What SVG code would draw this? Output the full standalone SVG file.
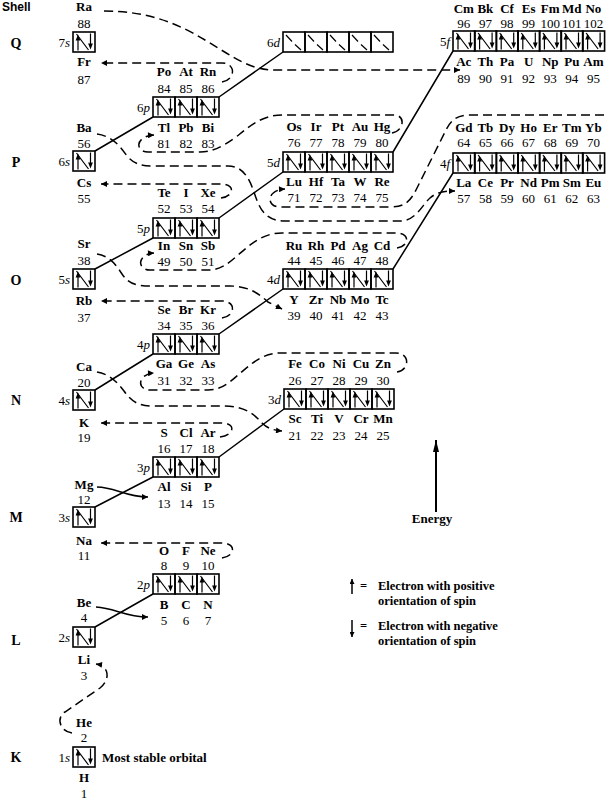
<svg xmlns="http://www.w3.org/2000/svg" xmlns:xlink="http://www.w3.org/1999/xlink" width="606" height="800" viewBox="0 0 606 800">
<style>
.bx{fill:none;stroke:#000;stroke-width:1.6}
.in{fill:none;stroke:#000;stroke-width:1.2}
.sym{font-family:"Liberation Serif",serif;font-weight:bold;font-size:13px;text-anchor:middle}
.num{font-family:"Liberation Serif",serif;font-size:13px;text-anchor:middle}
.orb{font-family:"Liberation Serif",serif;font-size:13px;text-anchor:end}
.it{font-style:italic}
.sh{font-family:"Liberation Serif",serif;font-weight:bold;font-size:14px;text-anchor:middle}
.lg{font-family:"Liberation Serif",serif;font-weight:bold;font-size:13px}
.lg2{font-family:"Liberation Serif",serif;font-weight:bold;font-size:12.5px}
.dash{fill:none;stroke:#000;stroke-width:1.5;stroke-dasharray:9 5}
.sol{fill:none;stroke:#000;stroke-width:1.5}
</style>
<defs>
<marker id="ah" viewBox="0 0 10 10" refX="10" refY="5" markerWidth="9" markerHeight="6" markerUnits="userSpaceOnUse" orient="auto"><path d="M0,0 L10,5 L0,10 Z" fill="#000"/></marker>
<marker id="ahE" viewBox="0 0 12 6" refX="12" refY="3" markerWidth="12" markerHeight="6" markerUnits="userSpaceOnUse" orient="auto"><path d="M0,0 L12,3 L0,6 Z" fill="#000"/></marker>
<marker id="ahS" viewBox="0 0 10 10" refX="10" refY="5" markerWidth="6" markerHeight="5" markerUnits="userSpaceOnUse" orient="auto"><path d="M0,0 L10,5 L0,10 Z" fill="#000"/></marker>
<g id="o"><rect class="bx" width="22" height="20"/><path class="in" d="M3.5,2 L15.5,18 M5,18.5 V7.5 M17.5,1.5 V12.5"/><path d="M2.6,8.6 L7.4,8.6 L5,2.6Z M15.1,11.4 L19.9,11.4 L17.5,17.4Z"/></g>
<g id="oe"><rect class="bx" width="22" height="20"/><path class="in" d="M3,3 L9,9.5 M12,12.5 L18,18"/></g>
</defs>
<rect width="606" height="800" fill="#fff"/>

<g id="connectors">
<path class="sol" d="M95,151 L153,117 M219,97 L283,52 M393,152 L453,51 M95,269 L153,238 M219,218 L283,172 M393,269 L453,173 M95,390 L153,354 M219,334 L283,289 M95,507 L153,477 M219,457 L284,409 M95,627 L153,594"/>
<path class="dash" marker-end="url(#ah)" d="M104,11 C150,11 180,25 205,40 C235,58 250,70 275,70 L460,70"/>
<path class="dash" marker-end="url(#ah)" d="M222,82 C236,80 236,63 222,63 L101,63"/>
<path class="dash" marker-end="url(#ah)" d="M392,133 C404,131 406,115 394,115 L282,115 C262,115 250,126 236,137 C222,147 212,152 200,152 L148,152 C135,152 135,136 154,135"/>
<path class="dash" marker-end="url(#ah)" d="M221,198 C235,196 235,184 221,184 L101,184"/>
<path class="dash" marker-end="url(#ah)" d="M97,134 C112,136 120,146 127,156 C134,164 141,166 155,166 L228,166 C244,166 250,180 255,195 C260,210 266,221 285,221 L400,221 C416,221 422,205 430,198 C437,192 444,191 455,191"/>
<path class="dash" marker-end="url(#ah)" d="M604,115 L470,115 C457,115 451,120 446,130 L416,190 C410,202 404,207 390,207 L280,207 C266,207 266,190 285,189"/>
<path class="dash" marker-end="url(#ah)" d="M397,248 C410,246 410,233 396,233 L282,233 C262,233 250,245 238,255 C228,264 220,270 208,270 L150,270 C137,270 137,254 154,253"/>
<path class="dash" marker-end="url(#ah)" d="M222,318 C236,316 236,301 222,301 L101,301"/>
<path class="dash" marker-end="url(#ah)" d="M97,254 C110,256 116,265 122,274 C128,283 135,286 150,286 L230,286 C250,286 260,295 268,302 L282,309"/>
<path class="dash" marker-end="url(#ah)" d="M397,372 C410,370 410,353 396,353 L280,353 C262,353 250,365 238,375 C228,384 220,390 208,390 L150,390 C137,390 137,374 154,373"/>
<path class="dash" marker-end="url(#ah)" d="M220,437 C235,435 236,423 222,423 L101,423"/>
<path class="dash" marker-end="url(#ah)" d="M97,372 C110,374 118,383 124,391 C131,401 138,406 152,406 L225,406 C245,406 255,415 262,423 C267,428 272,430 282,431"/>
<path class="dash" marker-end="url(#ah)" d="M222,558 C236,556 236,543 222,543 L101,543"/>
<path class="dash" marker-end="url(#ah)" d="M72,733 C58,731 57,716 65,712 L100,688 C110,680 110,666 96,664"/>
<path class="sol" marker-end="url(#ah)" d="M96,607 C115,608 125,617 148,617"/>
<path class="sol" marker-end="url(#ah)" d="M97,487 C115,487 125,497 148,497"/>
</g>

<g id="shells">
<text x="2" y="11" font-family="Liberation Sans, sans-serif" font-weight="bold" font-size="12">Shell</text>
<text class="sh" x="16" y="48">Q</text>
<text class="sh" x="16" y="167">P</text>
<text class="sh" x="16" y="285">O</text>
<text class="sh" x="16" y="405">N</text>
<text class="sh" x="16" y="522">M</text>
<text class="sh" x="16" y="645">L</text>
<text class="sh" x="16" y="762">K</text>
</g>

<g id="n7s">
<text class="orb" x="70" y="47">7<tspan class="it">s</tspan></text>
<use href="#o" x="73" y="32"/>
<text class="sym" x="84" y="11">Ra</text><text class="num" x="84" y="28">88</text>
<text class="sym" x="84" y="66">Fr</text><text class="num" x="84" y="84">87</text>
</g>
<g id="n6s">
<text class="orb" x="70" y="166">6<tspan class="it">s</tspan></text>
<use href="#o" x="73" y="151"/>
<text class="sym" x="84" y="132">Ba</text><text class="num" x="84" y="148">56</text>
<text class="sym" x="84" y="187">Cs</text><text class="num" x="84" y="203">55</text>
</g>
<g id="n5s">
<text class="orb" x="70" y="284">5<tspan class="it">s</tspan></text>
<use href="#o" x="73" y="269"/>
<text class="sym" x="84" y="248">Sr</text><text class="num" x="84" y="265">38</text>
<text class="sym" x="84" y="305">Rb</text><text class="num" x="84" y="322">37</text>
</g>
<g id="n4s">
<text class="orb" x="70" y="405">4<tspan class="it">s</tspan></text>
<use href="#o" x="73" y="390"/>
<text class="sym" x="84" y="371">Ca</text><text class="num" x="84" y="387">20</text>
<text class="sym" x="84" y="427">K</text><text class="num" x="84" y="442">19</text>
</g>
<g id="n3s">
<text class="orb" x="70" y="522">3<tspan class="it">s</tspan></text>
<use href="#o" x="73" y="507"/>
<text class="sym" x="84" y="489">Mg</text><text class="num" x="84" y="504">12</text>
<text class="sym" x="84" y="545">Na</text><text class="num" x="84" y="560">11</text>
</g>
<g id="n2s">
<text class="orb" x="70" y="642">2<tspan class="it">s</tspan></text>
<use href="#o" x="73" y="627"/>
<text class="sym" x="84" y="607">Be</text><text class="num" x="84" y="622">4</text>
<text class="sym" x="84" y="664">Li</text><text class="num" x="84" y="680">3</text>
</g>
<g id="n1s">
<text class="orb" x="70" y="762">1<tspan class="it">s</tspan></text>
<use href="#o" x="73" y="747"/>
<text class="sym" x="84" y="727">He</text><text class="num" x="84" y="742">2</text>
<text class="sym" x="84" y="782">H</text><text class="num" x="84" y="798">1</text>
<text class="lg" x="102" y="762">Most stable orbital</text>
</g>

<g id="n6p">
<text class="orb" x="150" y="112">6<tspan class="it">p</tspan></text>
<use href="#o" x="153" y="97"/><use href="#o" x="175" y="97"/><use href="#o" x="197" y="97"/>
<text class="sym" y="76"><tspan x="164">Po</tspan><tspan x="186">At</tspan><tspan x="208">Rn</tspan></text>
<text class="num" y="93"><tspan x="164">84</tspan><tspan x="186">85</tspan><tspan x="208">86</tspan></text>
<text class="sym" y="132"><tspan x="164">Tl</tspan><tspan x="186">Pb</tspan><tspan x="208">Bi</tspan></text>
<text class="num" y="148"><tspan x="164">81</tspan><tspan x="186">82</tspan><tspan x="208">83</tspan></text>
</g>
<g id="n5p">
<text class="orb" x="150" y="233">5<tspan class="it">p</tspan></text>
<use href="#o" x="153" y="218"/><use href="#o" x="175" y="218"/><use href="#o" x="197" y="218"/>
<text class="sym" y="197"><tspan x="164">Te</tspan><tspan x="186">I</tspan><tspan x="208">Xe</tspan></text>
<text class="num" y="213"><tspan x="164">52</tspan><tspan x="186">53</tspan><tspan x="208">54</tspan></text>
<text class="sym" y="250"><tspan x="164">In</tspan><tspan x="186">Sn</tspan><tspan x="208">Sb</tspan></text>
<text class="num" y="266"><tspan x="164">49</tspan><tspan x="186">50</tspan><tspan x="208">51</tspan></text>
</g>
<g id="n4p">
<text class="orb" x="150" y="349">4<tspan class="it">p</tspan></text>
<use href="#o" x="153" y="334"/><use href="#o" x="175" y="334"/><use href="#o" x="197" y="334"/>
<text class="sym" y="314"><tspan x="164">Se</tspan><tspan x="186">Br</tspan><tspan x="208">Kr</tspan></text>
<text class="num" y="330"><tspan x="164">34</tspan><tspan x="186">35</tspan><tspan x="208">36</tspan></text>
<text class="sym" y="368"><tspan x="164">Ga</tspan><tspan x="186">Ge</tspan><tspan x="208">As</tspan></text>
<text class="num" y="385"><tspan x="164">31</tspan><tspan x="186">32</tspan><tspan x="208">33</tspan></text>
</g>
<g id="n3p">
<text class="orb" x="150" y="472">3<tspan class="it">p</tspan></text>
<use href="#o" x="153" y="457"/><use href="#o" x="175" y="457"/><use href="#o" x="197" y="457"/>
<text class="sym" y="437"><tspan x="164">S</tspan><tspan x="186">Cl</tspan><tspan x="208">Ar</tspan></text>
<text class="num" y="453"><tspan x="164">16</tspan><tspan x="186">17</tspan><tspan x="208">18</tspan></text>
<text class="sym" y="491"><tspan x="164">Al</tspan><tspan x="186">Si</tspan><tspan x="208">P</tspan></text>
<text class="num" y="508"><tspan x="164">13</tspan><tspan x="186">14</tspan><tspan x="208">15</tspan></text>
</g>
<g id="n2p">
<text class="orb" x="150" y="589">2<tspan class="it">p</tspan></text>
<use href="#o" x="153" y="574"/><use href="#o" x="175" y="574"/><use href="#o" x="197" y="574"/>
<text class="sym" y="555"><tspan x="164">O</tspan><tspan x="186">F</tspan><tspan x="208">Ne</tspan></text>
<text class="num" y="570"><tspan x="164">8</tspan><tspan x="186">9</tspan><tspan x="208">10</tspan></text>
<text class="sym" y="609"><tspan x="164">B</tspan><tspan x="186">C</tspan><tspan x="208">N</tspan></text>
<text class="num" y="625"><tspan x="164">5</tspan><tspan x="186">6</tspan><tspan x="208">7</tspan></text>
</g>

<g id="n6d">
<text class="orb" x="280" y="47">6<tspan class="it">d</tspan></text>
<use href="#oe" x="283" y="32"/><use href="#oe" x="305" y="32"/><use href="#oe" x="327" y="32"/><use href="#oe" x="349" y="32"/><use href="#oe" x="371" y="32"/>
</g>
<g id="n5d">
<text class="orb" x="280" y="167">5<tspan class="it">d</tspan></text>
<use href="#o" x="283" y="152"/><use href="#o" x="305" y="152"/><use href="#o" x="327" y="152"/><use href="#o" x="349" y="152"/><use href="#o" x="371" y="152"/>
<text class="sym" y="131"><tspan x="294">Os</tspan><tspan x="316">Ir</tspan><tspan x="338">Pt</tspan><tspan x="360">Au</tspan><tspan x="382">Hg</tspan></text>
<text class="num" y="147"><tspan x="294">76</tspan><tspan x="316">77</tspan><tspan x="338">78</tspan><tspan x="360">79</tspan><tspan x="382">80</tspan></text>
<text class="sym" y="186"><tspan x="294">Lu</tspan><tspan x="316">Hf</tspan><tspan x="338">Ta</tspan><tspan x="360">W</tspan><tspan x="382">Re</tspan></text>
<text class="num" y="202"><tspan x="294">71</tspan><tspan x="316">72</tspan><tspan x="338">73</tspan><tspan x="360">74</tspan><tspan x="382">75</tspan></text>
</g>
<g id="n4d">
<text class="orb" x="280" y="284">4<tspan class="it">d</tspan></text>
<use href="#o" x="283" y="269"/><use href="#o" x="305" y="269"/><use href="#o" x="327" y="269"/><use href="#o" x="349" y="269"/><use href="#o" x="371" y="269"/>
<text class="sym" y="250"><tspan x="294">Ru</tspan><tspan x="316">Rh</tspan><tspan x="338">Pd</tspan><tspan x="360">Ag</tspan><tspan x="382">Cd</tspan></text>
<text class="num" y="265"><tspan x="294">44</tspan><tspan x="316">45</tspan><tspan x="338">46</tspan><tspan x="360">47</tspan><tspan x="382">48</tspan></text>
<text class="sym" y="304"><tspan x="294">Y</tspan><tspan x="316">Zr</tspan><tspan x="338">Nb</tspan><tspan x="360">Mo</tspan><tspan x="382">Tc</tspan></text>
<text class="num" y="320"><tspan x="294">39</tspan><tspan x="316">40</tspan><tspan x="338">41</tspan><tspan x="360">42</tspan><tspan x="382">43</tspan></text>
</g>
<g id="n3d">
<text class="orb" x="281" y="404">3<tspan class="it">d</tspan></text>
<use href="#o" x="284" y="389"/><use href="#o" x="306" y="389"/><use href="#o" x="328" y="389"/><use href="#o" x="350" y="389"/><use href="#o" x="372" y="389"/>
<text class="sym" y="368"><tspan x="295">Fe</tspan><tspan x="317">Co</tspan><tspan x="339">Ni</tspan><tspan x="361">Cu</tspan><tspan x="383">Zn</tspan></text>
<text class="num" y="385"><tspan x="295">26</tspan><tspan x="317">27</tspan><tspan x="339">28</tspan><tspan x="361">29</tspan><tspan x="383">30</tspan></text>
<text class="sym" y="423"><tspan x="295">Sc</tspan><tspan x="317">Ti</tspan><tspan x="339">V</tspan><tspan x="361">Cr</tspan><tspan x="383">Mn</tspan></text>
<text class="num" y="440"><tspan x="295">21</tspan><tspan x="317">22</tspan><tspan x="339">23</tspan><tspan x="361">24</tspan><tspan x="383">25</tspan></text>
</g>

<g id="n5f">
<text class="orb" x="450" y="46">5<tspan class="it">f</tspan></text>
<use href="#o" x="453" y="31"/><use href="#o" x="474.6" y="31"/><use href="#o" x="496.2" y="31"/><use href="#o" x="517.8" y="31"/><use href="#o" x="539.4" y="31"/><use href="#o" x="561" y="31"/><use href="#o" x="582.6" y="31"/>
<text class="sym" y="13"><tspan x="463.8">Cm</tspan><tspan x="485.4">Bk</tspan><tspan x="507">Cf</tspan><tspan x="528.6">Es</tspan><tspan x="550.2">Fm</tspan><tspan x="571.8">Md</tspan><tspan x="593.4">No</tspan></text>
<text class="num" y="28"><tspan x="463.8">96</tspan><tspan x="485.4">97</tspan><tspan x="507">98</tspan><tspan x="528.6">99</tspan><tspan x="550.2">100</tspan><tspan x="571.8">101</tspan><tspan x="593.4">102</tspan></text>
<text class="sym" y="66"><tspan x="463.8">Ac</tspan><tspan x="485.4">Th</tspan><tspan x="507">Pa</tspan><tspan x="528.6">U</tspan><tspan x="550.2">Np</tspan><tspan x="571.8">Pu</tspan><tspan x="593.4">Am</tspan></text>
<text class="num" y="83"><tspan x="463.8">89</tspan><tspan x="485.4">90</tspan><tspan x="507">91</tspan><tspan x="528.6">92</tspan><tspan x="550.2">93</tspan><tspan x="571.8">94</tspan><tspan x="593.4">95</tspan></text>
</g>
<g id="n4f">
<text class="orb" x="450" y="168">4<tspan class="it">f</tspan></text>
<use href="#o" x="453" y="153"/><use href="#o" x="474.6" y="153"/><use href="#o" x="496.2" y="153"/><use href="#o" x="517.8" y="153"/><use href="#o" x="539.4" y="153"/><use href="#o" x="561" y="153"/><use href="#o" x="582.6" y="153"/>
<text class="sym" y="132"><tspan x="463.8">Gd</tspan><tspan x="485.4">Tb</tspan><tspan x="507">Dy</tspan><tspan x="528.6">Ho</tspan><tspan x="550.2">Er</tspan><tspan x="571.8">Tm</tspan><tspan x="593.4">Yb</tspan></text>
<text class="num" y="147"><tspan x="463.8">64</tspan><tspan x="485.4">65</tspan><tspan x="507">66</tspan><tspan x="528.6">67</tspan><tspan x="550.2">68</tspan><tspan x="571.8">69</tspan><tspan x="593.4">70</tspan></text>
<text class="sym" y="187"><tspan x="463.8">La</tspan><tspan x="485.4">Ce</tspan><tspan x="507">Pr</tspan><tspan x="528.6">Nd</tspan><tspan x="550.2">Pm</tspan><tspan x="571.8">Sm</tspan><tspan x="593.4">Eu</tspan></text>
<text class="num" y="203"><tspan x="463.8">57</tspan><tspan x="485.4">58</tspan><tspan x="507">59</tspan><tspan x="528.6">60</tspan><tspan x="550.2">61</tspan><tspan x="571.8">62</tspan><tspan x="593.4">63</tspan></text>
</g>

<g id="energy">
<line x1="436" y1="512" x2="436" y2="440" stroke="#000" stroke-width="2" marker-end="url(#ahE)"/>
<text class="lg" x="432" y="523" text-anchor="middle">Energy</text>
</g>
<g id="legend">
<line x1="352" y1="594" x2="352" y2="579" stroke="#000" stroke-width="1.5" marker-end="url(#ahS)"/>
<text class="lg2" x="360" y="590">=</text>
<text class="lg2" x="378" y="590">Electron with positive</text>
<text class="lg2" x="378" y="604.5">orientation of spin</text>
<line x1="352" y1="620" x2="352" y2="637" stroke="#000" stroke-width="1.5" marker-end="url(#ahS)"/>
<text class="lg2" x="360" y="630">=</text>
<text class="lg2" x="378" y="630">Electron with negative</text>
<text class="lg2" x="378" y="644.5">orientation of spin</text>
</g>
</svg>
